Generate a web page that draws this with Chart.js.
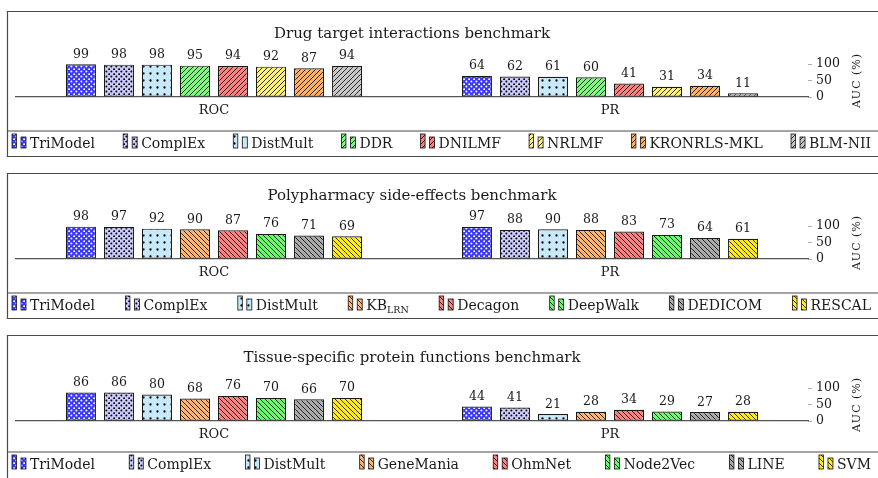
<!DOCTYPE html>
<html>
<head>
<meta charset="utf-8">
<script src="https://cdn.jsdelivr.net/npm/chart.js@4.4.1/dist/chart.umd.min.js"></script>
<style>
  html, body { margin: 0; padding: 0; background: #fff; overflow: hidden; }
  .panel { position: absolute; left: 0; width: 878px; height: 162px; }
</style>
</head>
<body>
<div class="panel" style="top:0px"><canvas id="c1" width="878" height="162"></canvas></div>
<div class="panel" style="top:162px"><canvas id="c2" width="878" height="162"></canvas></div>
<div class="panel" style="top:324px"><canvas id="c3" width="878" height="162"></canvas></div>
<script>
// data
const categories = ['ROC', 'PR'];
const yTicks = [0, 50, 100];

const drugMethods = ['TriModel', 'ComplEx', 'DistMult', 'DDR', 'DNILMF', 'NRLMF', 'KRONRLS-MKL', 'BLM-NII'];
const drugRoc = [99, 98, 98, 95, 94, 92, 87, 94];
const drugPr = [64, 62, 61, 60, 41, 31, 34, 11];

const polyMethods = ['TriModel', 'ComplEx', 'DistMult', 'KB_LRN', 'Decagon', 'DeepWalk', 'DEDICOM', 'RESCAL'];
const polyRoc = [98, 97, 92, 90, 87, 76, 71, 69];
const polyPr = [97, 88, 90, 88, 83, 73, 64, 61];

const tissueMethods = ['TriModel', 'ComplEx', 'DistMult', 'GeneMania', 'OhmNet', 'Node2Vec', 'LINE', 'SVM'];
const tissueRoc = [86, 86, 80, 68, 76, 70, 66, 70];
const tissuePr = [44, 41, 21, 28, 34, 29, 27, 28];

// styles
const SERIF = '"DejaVu Serif", "Liberation Serif", serif';
const fills = {
  'TriModel':    { kind: 'stagger', bg: '#3838ff', ink: '#ffffff' },
  'ComplEx':     { kind: 'stagger', bg: '#cacafc', ink: '#000000' },
  'DistMult':    { kind: 'grid',    bg: '#c8e9f9', ink: '#000000' },
  'DDR':         { kind: 'hatch', bg: '#80f880' },
  'DNILMF':      { kind: 'hatch', bg: '#fc8080' },
  'NRLMF':       { kind: 'hatch', bg: '#fff07e' },
  'KRONRLS-MKL': { kind: 'hatch', bg: '#ffb062' },
  'BLM-NII':     { kind: 'hatch', bg: '#c8c8c8' },
  'KB_LRN':      { kind: 'hatch', bg: '#ffb472' },
  'Decagon':     { kind: 'hatch', bg: '#fc8080' },
  'DeepWalk':    { kind: 'hatch', bg: '#6cf86c' },
  'DEDICOM':     { kind: 'hatch', bg: '#aaaaaa' },
  'RESCAL':      { kind: 'hatch', bg: '#ffea1e' },
  'GeneMania':   { kind: 'hatch', bg: '#ffb472' },
  'OhmNet':      { kind: 'hatch', bg: '#fc8080' },
  'Node2Vec':    { kind: 'hatch', bg: '#6cf86c' },
  'LINE':        { kind: 'hatch', bg: '#aaaaaa' },
  'SVM':         { kind: 'hatch', bg: '#ffea1e' }
};

function makePattern(ctx, f, dir) {
  const c = document.createElement('canvas');
  let s = 5;
  if (f.kind === 'stagger') s = 5.5;
  if (f.kind === 'grid') s = 7;
  c.width = s; c.height = s;
  const g = c.getContext('2d');
  g.fillStyle = f.bg;
  g.fillRect(0, 0, s, s);
  if (f.kind === 'hatch') {
    g.strokeStyle = '#000';
    g.lineWidth = 0.8;
    g.beginPath();
    if (dir === 'ne') {
      g.moveTo(-1, s + 1); g.lineTo(s + 1, -1);
      g.moveTo(-1, 1); g.lineTo(1, -1);
      g.moveTo(s - 1, s + 1); g.lineTo(s + 1, s - 1);
    } else {
      g.moveTo(-1, -1); g.lineTo(s + 1, s + 1);
      g.moveTo(s - 1, -1); g.lineTo(s + 1, 1);
      g.moveTo(-1, s - 1); g.lineTo(1, s + 1);
    }
    g.stroke();
  } else {
    g.fillStyle = f.ink;
    const pts = f.kind === 'stagger' ? [[s / 4, s / 4], [3 * s / 4, 3 * s / 4]] : [[s / 2, s / 2]];
    const r = f.kind === 'stagger' ? 1.0 : 1.15;
    pts.forEach(p => { g.beginPath(); g.arc(p[0], p[1], r, 0, Math.PI * 2); g.fill(); });
  }
  return ctx.createPattern(c, 'repeat');
}

// draws "KB_LRN" with a subscript
function drawLabel(ctx, text, x, y, measureOnly) {
  const parts = text.split('_');
  ctx.font = '14px ' + SERIF;
  let w = ctx.measureText(parts[0]).width;
  if (!measureOnly) ctx.fillText(parts[0], x, y);
  if (parts[1]) {
    ctx.font = '9.5px ' + SERIF;
    if (!measureOnly) ctx.fillText(parts[1], x + w, y + 3);
    w += ctx.measureText(parts[1]).width;
    ctx.font = '14px ' + SERIF;
  }
  return w;
}

function makePanel(id, title, methods, roc, pr, dir, sepY) {
  const canvas = document.getElementById(id);
  const ctx = canvas.getContext('2d');
  const patterns = methods.map(m => makePattern(ctx, fills[m], dir));

  const decor = {
    id: 'decor',
    afterDraw(chart) {
      const c = chart.ctx;
      const a = chart.chartArea;
      c.save();
      // frame
      c.strokeStyle = '#4a4a4a';
      c.lineWidth = 1.2;
      c.beginPath();
      c.moveTo(7.5, 157); c.lineTo(7.5, 11.5); c.lineTo(878, 11.5);
      c.moveTo(7.5, sepY); c.lineTo(878, sepY);
      c.moveTo(7.5, 156.5); c.lineTo(878, 156.5);
      c.stroke();

      c.fillStyle = '#1a1a1a';
      // title
      c.font = '15px ' + SERIF;
      c.textAlign = 'center';
      c.textBaseline = 'middle';
      c.fillText(title, (a.left + a.right) / 2, 34);

      // value labels
      c.font = '12.5px ' + SERIF;
      c.textBaseline = 'alphabetic';
      chart.data.datasets.forEach((ds, i) => {
        chart.getDatasetMeta(i).data.forEach((bar, j) => {
          c.fillText(String(ds.data[j]), bar.x, bar.y - 6.5);
        });
      });

      // axis title
      c.save();
      c.translate(857, (a.top + a.bottom) / 2);
      c.rotate(-Math.PI / 2);
      c.font = '11px ' + SERIF;
      c.letterSpacing = '1px';
      c.textBaseline = 'middle';
      c.fillText('AUC (%)', 0, 0);
      c.restore();

      // legend
      c.textAlign = 'left';
      c.textBaseline = 'alphabetic';
      const ly = sepY + 17;
      const widths = methods.map(m => 18 + drawLabel(c, m, 0, 0, true));
      const total = widths.reduce((s, w) => s + w, 0);
      const gap = (871 - 12 - total) / (methods.length - 1);
      let x = 12;
      methods.forEach((m, i) => {
        c.fillStyle = patterns[i];
        c.strokeStyle = '#111';
        c.lineWidth = 0.8;
        c.fillRect(x, ly - 14, 4.5, 14);
        c.strokeRect(x, ly - 14, 4.5, 14);
        c.fillRect(x + 9, ly - 11, 5, 11);
        c.strokeRect(x + 9, ly - 11, 5, 11);
        c.fillStyle = '#1a1a1a';
        drawLabel(c, m, x + 18, ly, false);
        x += widths[i] + gap;
      });
      c.restore();
    }
  };

  return new Chart(canvas, {
    type: 'bar',
    data: {
      labels: categories,
      datasets: methods.map((m, i) => ({
        label: m,
        data: [roc[i], pr[i]],
        backgroundColor: patterns[i],
        borderColor: '#1a1a1a',
        borderWidth: 1.2,
        borderSkipped: false,
        categoryPercentage: 0.768,
        barPercentage: 0.79
      }))
    },
    options: {
      responsive: false,
      animation: false,
      layout: { padding: { top: 64, left: 16, right: 0, bottom: 45 } },
      plugins: {
        legend: { display: false },
        tooltip: { enabled: false },
        title: { display: false }
      },
      scales: {
        x: {
          grid: { display: false, drawTicks: false },
          border: { display: true, color: '#555', width: 1.3 },
          ticks: { font: { family: SERIF, size: 13 }, color: '#1a1a1a', padding: 6 },
          afterFit: s => { s.height = 20; }
        },
        y: {
          position: 'right',
          min: 0,
          max: 100,
          afterBuildTicks: s => { s.ticks = yTicks.map(v => ({ value: v })); },
          ticks: { font: { family: SERIF, size: 12.5 }, color: '#1a1a1a', padding: 4, autoSkip: false },
          grid: { drawOnChartArea: false, drawTicks: true, tickLength: 4, color: '#999', lineWidth: 0.8 },
          border: { display: false },
          afterFit: s => { s.width = 70; }
        }
      }
    },
    plugins: [decor]
  });
}

makePanel('c1', 'Drug target interactions benchmark', drugMethods, drugRoc, drugPr, 'ne', 131);
makePanel('c2', 'Polypharmacy side-effects benchmark', polyMethods, polyRoc, polyPr, 'nw', 131);
makePanel('c3', 'Tissue-specific protein functions benchmark', tissueMethods, tissueRoc, tissuePr, 'nw', 128);
</script>
</body>
</html>
